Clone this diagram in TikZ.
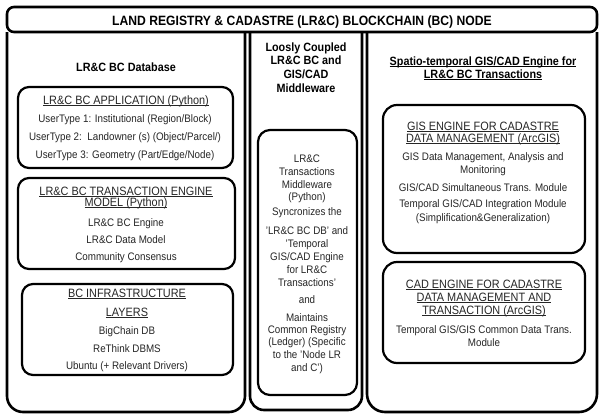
\documentclass[tikz,border=0pt]{standalone}
\usepackage{fontspec}
\setmainfont{Liberation Sans}[FakeStretch=0.9]
\newcommand\myuline[1]{\leavevmode\setbox0=\hbox{#1}\rlap{\copy0}\rule[-1.8pt]{\wd0}{0.7pt}}
\begin{document}
\begin{tikzpicture}[x=1pt,y=-1pt,
  outer/.style={line width=2.6pt, draw=black},
  inbox/.style={line width=2.2pt, draw=black, rounded corners=11pt},
  body/.style={font=\fontsize{10.9}{12}\selectfont, anchor=base, inner sep=0pt, text=black!85},
  head/.style={font=\fontsize{12.1}{13}\selectfont, anchor=base, inner sep=0pt, text=black!85},
  btitle/.style={font=\bfseries\fontsize{12}{13}\selectfont, anchor=base, inner sep=0pt},
  maintitle/.style={font=\bfseries\fontsize{13.5}{14}\selectfont, anchor=base, inner sep=0pt}]
\useasboundingbox (0,0) rectangle (600,415);
\fill[white] (0,0) rectangle (600,415);
% frame
\draw[outer, rounded corners=7pt] (7,7) rectangle (597,32);
\draw[outer, rounded corners=16pt] (7,32) -- (7,412) -- (245,412) -- (245,32);
\draw[outer, rounded corners=14pt] (250,32) -- (250,410) -- (362,410) -- (362,32);
\draw[outer, rounded corners=18pt] (367,32) -- (367,412) -- (597,412) -- (597,32);
\node[maintitle] (title) at (302,25) {LAND REGISTRY \& CADASTRE (LR\&C) BLOCKCHAIN (BC) NODE};
% left column
\node[btitle] (dbt) at (126,71) {LR\&C BC Database};
\draw[inbox] (18,87) rectangle (233,168);
\node[head] (a0) at (126,104) {\myuline{LR\&C BC APPLICATION (Python)}};
\node[body] (a1) at (125,122) {UserType 1: Institutional (Region/Block)};
\node[body] (a2) at (125,140) {UserType 2:\ \ Landowner (s) (Object/Parcel/)};
\node[body] (a3) at (125,158) {UserType 3: Geometry (Part/Edge/Node)};
\draw[inbox] (18,178) rectangle (235,269);
\node[head] (b0) at (126,195) {\myuline{LR\&C BC TRANSACTION ENGINE}};
\node[head] (b0b) at (126,206) {\myuline{MODEL (Python)}};
\node[body] (b1) at (126,226) {LR\&C BC Engine};
\node[body] (b2) at (126,243) {LR\&C Data Model};
\node[body] (b3) at (126,260) {Community Consensus};
\draw[inbox] (22,284) rectangle (233,375);
\node[head] (c0) at (127,297) {\myuline{BC INFRASTRUCTURE}};
\node[head] (c0b) at (127,316) {\myuline{LAYERS}};
\node[body] (c1) at (127,334) {BigChain DB};
\node[body] (c2) at (127,352) {ReThink DBMS};
\node[body] (c3) at (127,369) {Ubuntu (+ Relevant Drivers)};
% middle column
\node[btitle] (m0) at (306,51) {Loosly Coupled};
\node[btitle] (m1) at (306,64) {LR\&C BC and};
\node[btitle] (m2) at (306,78) {GIS/CAD};
\node[btitle] (m3) at (306,92) {Middleware};
\draw[inbox, rounded corners=12pt] (258,130) rectangle (357,395);
\node[body] (t1) at (307,162) {LR\&C};
\node[body] (t2) at (307,175) {Transactions};
\node[body] (t3) at (307,188) {Middleware};
\node[body] (t4) at (307,200) {(Python)};
\node[body] (t5) at (307,215) {Syncronizes the};
\node[body] (t6) at (307,234) {'LR\&C BC DB' and};
\node[body] (t7) at (307,247) {'Temporal};
\node[body] (t8) at (307,260) {GIS/CAD Engine};
\node[body] (t9) at (307,273) {for LR\&C};
\node[body] (t10) at (307,286) {Transactions'};
\node[body] (t11) at (307,303) {and};
\node[body] (t12) at (307,321) {Maintains};
\node[body] (t13) at (307,333) {Common Registry};
\node[body] (t14) at (307,345) {(Ledger) (Specific};
\node[body] (t15) at (307,358) {to the 'Node LR};
\node[body] (t16) at (307,371) {and C')};
% right column
\node[btitle] (r0) at (483,65) {\myuline{Spatio-temporal GIS/CAD Engine for}};
\node[btitle] (r1) at (483,78) {\myuline{LR\&C BC Transactions}};
\draw[inbox, rounded corners=14pt] (383,105) rectangle (585,253);
\node[head] (g0) at (483,130) {\myuline{GIS ENGINE FOR CADASTRE}};
\node[head] (g0b) at (483,142) {\myuline{DATA MANAGEMENT (ArcGIS)}};
\node[body] (g1) at (483,160) {GIS Data Management, Analysis and};
\node[body] (g2) at (483,173) {Monitoring};
\node[body] (g3) at (483,191) {GIS/CAD Simultaneous Trans. Module};
\node[body] (g4) at (483,207) {Temporal GIS/CAD Integration Module};
\node[body] (g5) at (483,221) {(Simplification\&Generalization)};
\draw[inbox, rounded corners=14pt] (383,262) rectangle (585,363);
\node[head] (k0) at (484,288) {\myuline{CAD ENGINE FOR CADASTRE}};
\node[head] (k0b) at (484,301) {\myuline{DATA MANAGEMENT AND}};
\node[head] (k0c) at (484,314) {\myuline{TRANSACTION (ArcGIS)}};
\node[body] (k1) at (484,333) {Temporal GIS/GIS Common Data Trans.};
\node[body] (k2) at (484,346) {Module};
\end{tikzpicture}
\end{document}
